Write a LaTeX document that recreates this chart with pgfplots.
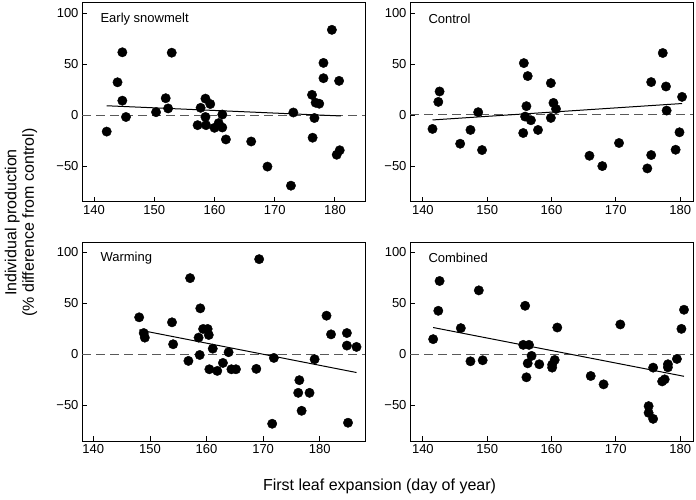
\documentclass[border=0pt]{standalone}
\usepackage{pgfplots}
\pgfplotsset{compat=1.18}
\usepackage{fontspec}
\setmainfont{Liberation Sans}

\pgfplotsset{
  panel/.style={
    scale only axis, width=283pt, height=199pt,
    anchor=north west,
    ymin=-85, ymax=110,
    ytick={-50,0,50,100},
    yticklabels={−50,0,50,100},
    xtick={140,150,160,170,180},
    tick pos=left, tick align=inside,
    major tick length=5pt,
    tick style={black, line width=0.8pt},
    axis line style={line width=1pt},
    every tick label/.append style={font=\fontsize{13}{15}\selectfont},
    /pgf/number format/assume math mode=true,
  },
  dots/.style={only marks, mark=*, mark size=4.7pt, black},
  fit/.style={black, line width=1pt},
  zero/.style={gray!70!black, line width=0.9pt, dash pattern=on 9pt off 5pt},
}
\newcommand{\paneltitle}[1]{\node[anchor=west, font=\fontsize{13}{15}\selectfont]
  at (axis description cs:0,1) [xshift=15pt, yshift=-16pt] {#1};}

\begin{document}
\begin{tikzpicture}
\useasboundingbox (0,0) rectangle (696pt,-500pt);

% Early snowmelt
\begin{axis}[panel, at={(82pt,-3pt)}, xmin=138, xmax=185]
\addplot[zero] coordinates {(138,0) (185,0)};
\addplot[fit] coordinates {(142.1,9.3) (181.0,-0.7)};
\addplot[dots] coordinates {
(142.1,-16) (143.9,32.3) (144.7,61.7) (144.7,14.3) (145.3,-1.7)
(150.3,3) (151.9,16.7) (152.3,6.7) (152.9,61.3) (157.7,7.3)
(157.2,-9.7) (158.5,16.3) (159.3,11) (158.5,-1.7) (158.6,-9.7)
(160.0,-12.3) (160.7,-7.7) (161.3,0.7) (161.3,-12) (161.9,-23.7)
(166.1,-25.7) (168.8,-50.3) (172.7,-69) (173.1,2.7) (176.2,20)
(176.3,-22) (176.6,-2.7) (176.8,12.3) (177.4,11.3) (178.1,36.3)
(178.1,51.3) (179.5,83.7) (180.7,33.7) (180.3,-38.7) (180.8,-34.3)
};
\paneltitle{Early snowmelt}
\end{axis}

% Control
\begin{axis}[panel, at={(410pt,-3pt)}, xmin=138, xmax=182]
\addplot[zero] coordinates {(138,1) (182,1)};
\addplot[fit] coordinates {(141.5,-4.6) (180.3,11.5)};
\addplot[dots] coordinates {
(141.5,-13.4) (142.4,13.1) (142.6,23.3) (145.8,-27.9) (147.4,-14.4)
(148.6,3) (149.2,-34.1) (155.6,-17.4) (155.7,51.1) (156.3,38.4)
(156.1,8.9) (155.9,-1.3) (156.8,-4.9) (157.9,-14.4) (159.9,31.5)
(159.9,-2.6) (160.3,12.1) (160.7,6.2) (165.9,-39.7) (167.9,-49.8)
(170.5,-27.2) (174.9,-52.1) (175.5,-39) (175.5,32.5) (177.3,61)
(177.8,28.2) (177.9,4.6) (179.3,-33.8) (179.9,-16.7) (180.3,18)
};
\paneltitle{Control}
\end{axis}

% Warming
\begin{axis}[panel, at={(82pt,-242pt)}, xmin=138, xmax=188]
\addplot[zero] coordinates {(138,0) (188,0)};
\addplot[fit] coordinates {(148.1,23.8) (186.5,-17.9)};
\addplot[dots] coordinates {
(148.1,36.2) (148.9,20.8) (149.1,16.3) (153.9,31.3) (154.1,9.8)
(157.1,74.6) (156.8,-6.5) (158.9,45) (158.6,16.3) (158.8,-0.7)
(159.4,24.8) (160.2,24.8) (160.4,18.9) (161.1,5.5) (160.5,-14.7)
(161.9,-16.3) (162.9,-8.5) (163.9,2) (164.4,-14.7) (165.2,-14.7)
(168.8,-14.3) (169.3,93.2) (171.9,-3.6) (171.6,-68.1) (176.4,-25.4)
(176.2,-37.8) (176.8,-55.4) (178.2,-37.8) (179.1,-4.9) (181.2,37.8)
(182.0,19.5) (184.8,20.8) (184.8,8.5) (186.5,7.2) (185.0,-67.1)
};
\paneltitle{Warming}
\end{axis}

% Combined
\begin{axis}[panel, at={(410pt,-242pt)}, xmin=138, xmax=182]
\addplot[zero] coordinates {(138,0) (182,0)};
\addplot[fit] coordinates {(141.6,26.2) (180.6,-21.6)};
\addplot[dots] coordinates {
(141.6,14.8) (142.4,42.6) (142.6,71.8) (145.9,25.6) (147.4,-6.9)
(148.7,62.6) (149.3,-5.9) (155.9,47.5) (155.6,9.2) (156.5,9.2)
(156.9,-1.6) (156.3,-8.9) (156.1,-22.6) (158.1,-9.8) (160.1,-10.2)
(160.1,-13.1) (160.5,-5.6) (160.9,26.2) (166.1,-21.3) (168.1,-29.5)
(170.7,29.2) (175.1,-50.8) (175.1,-57.4) (175.8,-63.3) (175.8,-13.1)
(177.2,-26.6) (177.6,-24.6) (178.1,-12.8) (178.1,-9.8) (179.5,-4.6)
(180.2,24.9) (180.6,43.6)
};
\paneltitle{Combined}
\end{axis}

\node[rotate=90, align=center, font=\fontsize{16}{17.5}\selectfont]
  at (21pt,-222.5pt) {Individual production\\(\% difference from control)};
\node[font=\fontsize{16}{18}\selectfont] at (379.5pt,-486pt)
  {First leaf expansion (day of year)};
\end{tikzpicture}
\end{document}
